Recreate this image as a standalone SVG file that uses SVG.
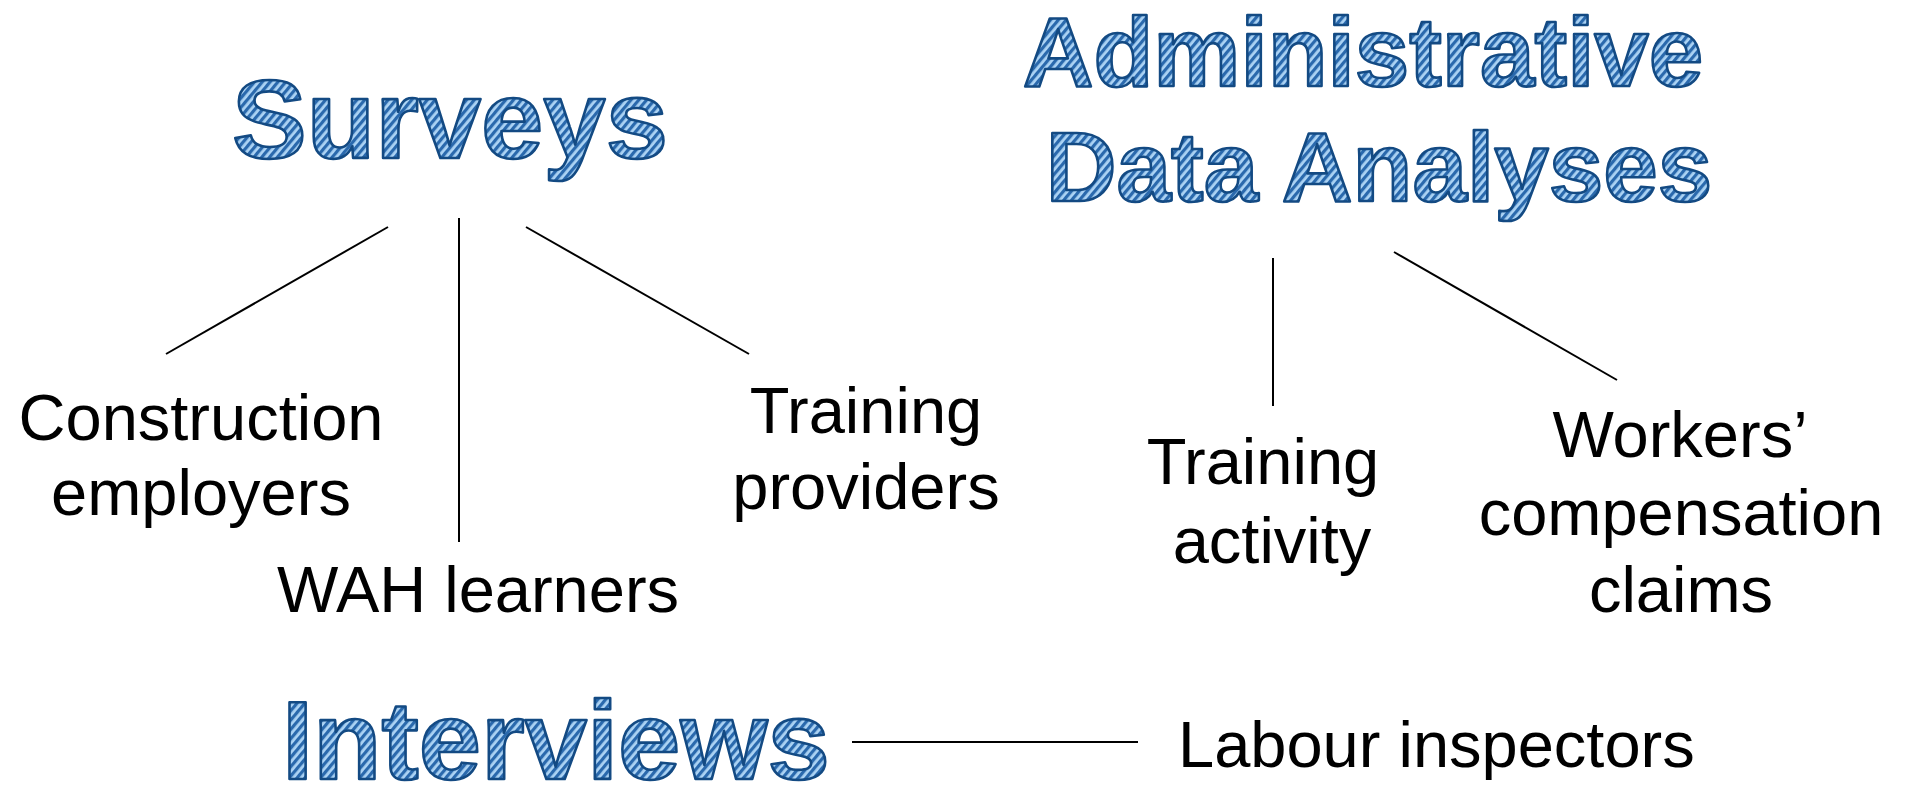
<svg xmlns="http://www.w3.org/2000/svg" width="1908" height="787" viewBox="0 0 1908 787">
<style>
.head{font-family:"Liberation Sans",Arial,sans-serif;font-weight:bold;fill:url(#stripes);stroke:#134a83;stroke-width:2.6;stroke-linejoin:round}
.lbl{font-family:"Liberation Sans",Arial,sans-serif;font-size:65px;fill:#000;text-anchor:middle}
.conn line{stroke:#000;stroke-width:2;fill:none}
</style>
<defs>
<pattern id="stripes" patternUnits="userSpaceOnUse" width="6" height="6" patternTransform="rotate(40)">
<rect width="6" height="6" fill="#acd3f4"/>
<rect width="3.2" height="6" fill="#2a69ad"/>
</pattern>
</defs>
<rect width="1908" height="787" fill="#fff"/>
<g id="surveys"><text class="head" x="450" y="158" font-size="112" text-anchor="middle">Surveys</text></g>
<g id="admin"><text class="head" font-size="98" text-anchor="middle"><tspan x="1363" y="86">Administrative</tspan><tspan x="1379" y="201">Data Analyses</tspan></text></g>
<g id="interviews"><text class="head" x="282" y="779" font-size="112">Interviews</text></g>
<g id="construction"><text class="lbl"><tspan x="201" y="440">Construction</tspan><tspan x="201" y="515">employers</tspan></text></g>
<g id="wah"><text class="lbl" x="478" y="612">WAH learners</text></g>
<g id="providers"><text class="lbl"><tspan x="866" y="433">Training</tspan><tspan x="866" y="509">providers</tspan></text></g>
<g id="activity"><text class="lbl"><tspan x="1263" y="484">Training</tspan><tspan x="1272" y="563">activity</tspan></text></g>
<g id="claims"><text class="lbl"><tspan x="1680" y="457">Workers’</tspan><tspan x="1681" y="535">compensation</tspan><tspan x="1681" y="612">claims</tspan></text></g>
<g id="inspectors"><text class="lbl" x="1178" y="767" style="text-anchor:start">Labour inspectors</text></g>
<g id="connectors" class="conn">
<line x1="388" y1="227" x2="166" y2="354"/>
<line x1="459" y1="218" x2="459" y2="542"/>
<line x1="526" y1="227" x2="749" y2="354"/>
<line x1="1273" y1="258" x2="1273" y2="406"/>
<line x1="1394" y1="252" x2="1617" y2="380"/>
<line x1="852" y1="742" x2="1138" y2="742"/>
</g>
</svg>
